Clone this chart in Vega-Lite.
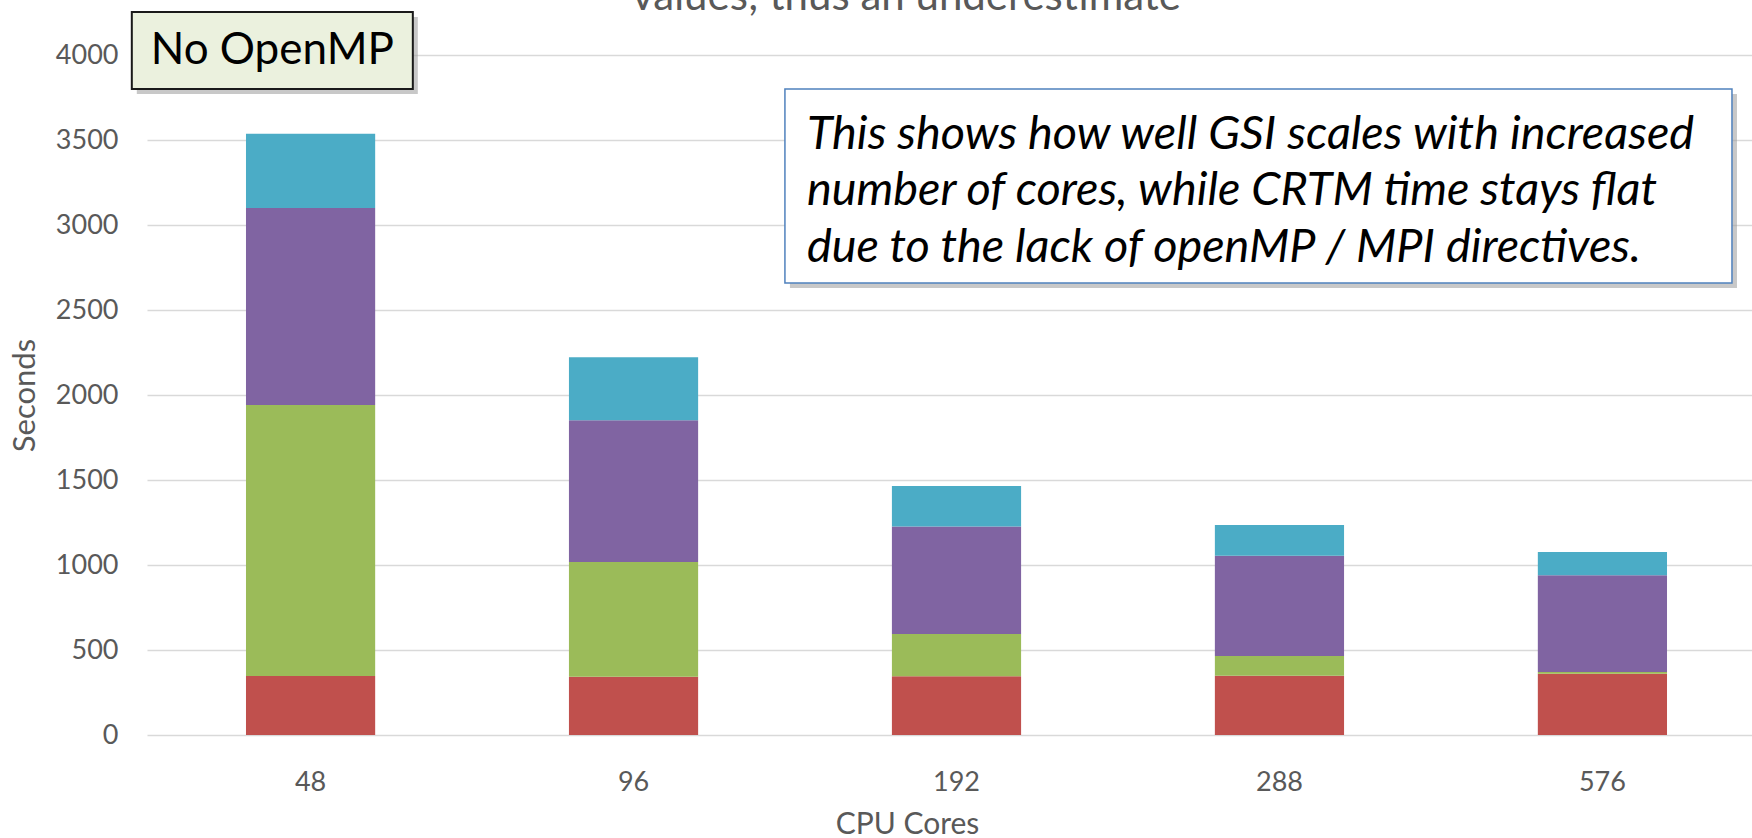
{
  "$schema": "https://vega.github.io/schema/vega-lite/v6.json",
  "width": 1605,
  "height": 680,
  "autosize": {"type": "none"},
  "padding": {"left": 147, "top": 55, "right": 0, "bottom": 103},
  "background": "white",
  "config": {"view": {"stroke": null}, "font": "Lato"},
  "title": {
    "text": "values; thus an underestimate",
    "font": "Lato",
    "fontSize": 42,
    "fontWeight": "normal",
    "color": "#595959",
    "anchor": "middle",
    "frame": "group",
    "dx": -43,
    "dy": 8,
    "offset": 0
  },
  "datasets": {
    "times": [
      {"cores": "48", "component": "Component A", "seconds": 347},
      {"cores": "48", "component": "Component B", "seconds": 1594},
      {"cores": "48", "component": "Component C", "seconds": 1159},
      {"cores": "48", "component": "Component D", "seconds": 437},
      {"cores": "96", "component": "Component A", "seconds": 343},
      {"cores": "96", "component": "Component B", "seconds": 675},
      {"cores": "96", "component": "Component C", "seconds": 833},
      {"cores": "96", "component": "Component D", "seconds": 371},
      {"cores": "192", "component": "Component A", "seconds": 345},
      {"cores": "192", "component": "Component B", "seconds": 249},
      {"cores": "192", "component": "Component C", "seconds": 633},
      {"cores": "192", "component": "Component D", "seconds": 238},
      {"cores": "288", "component": "Component A", "seconds": 349},
      {"cores": "288", "component": "Component B", "seconds": 116},
      {"cores": "288", "component": "Component C", "seconds": 590},
      {"cores": "288", "component": "Component D", "seconds": 180},
      {"cores": "576", "component": "Component A", "seconds": 361},
      {"cores": "576", "component": "Component B", "seconds": 10},
      {"cores": "576", "component": "Component C", "seconds": 568},
      {"cores": "576", "component": "Component D", "seconds": 137}
    ],
    "tagBox": [
      {"left": -0.553, "right": 0.317, "top": 4253, "bottom": 3800, "label": "No OpenMP", "labelX": -0.118, "labelY": 4026}
    ],
    "noteBox": [
      {"left": 1.469, "right": 4.401, "top": 3800, "bottom": 2659, "label": "This shows how well GSI scales with increased\nnumber of cores, while CRTM time stays flat\ndue to the lack of openMP / MPI directives.", "labelX": 1.537, "labelY": 3532}
    ]
  },
  "resolve": {"scale": {"x": "independent"}},
  "layer": [
    {
      "data": {"name": "times"},
      "mark": {"type": "bar"},
      "encoding": {
        "x": {
          "field": "cores",
          "type": "ordinal",
          "sort": ["48", "96", "192", "288", "576"],
          "scale": {"range": [0, 1619], "paddingInner": 0.6, "paddingOuter": 0.3065},
          "axis": {
            "title": "CPU Cores",
            "labelAngle": 0,
            "ticks": false,
            "tickSize": 0,
            "domain": false,
            "labelFont": "Lato",
            "labelFontSize": 27,
            "labelColor": "#595959",
            "labelPadding": 47,
            "labelBaseline": "middle",
            "titleFont": "Lato",
            "titleFontSize": 30,
            "titleFontWeight": "normal",
            "titleColor": "#595959",
            "titleX": 760,
            "titleY": 89,
            "titleBaseline": "middle"
          }
        },
        "y": {
          "field": "seconds",
          "type": "quantitative",
          "stack": "zero",
          "scale": {"domain": [0, 4000], "nice": false},
          "axis": {
            "title": "Seconds",
            "values": [0, 500, 1000, 1500, 2000, 2500, 3000, 3500, 4000],
            "format": "d",
            "grid": true,
            "gridColor": "#D9D9D9",
            "gridWidth": 1.5,
            "domain": false,
            "ticks": false,
            "tickSize": 0,
            "labelPadding": 29,
            "labelFont": "Lato",
            "labelFontSize": 27,
            "labelColor": "#595959",
            "titleFont": "Lato",
            "titleFontSize": 31,
            "titleFontWeight": "normal",
            "titleColor": "#595959",
            "titleX": -122,
            "titleY": 340,
            "titleAngle": -90,
            "titleAlign": "center",
            "titleBaseline": "middle"
          }
        },
        "color": {
          "field": "component",
          "type": "nominal",
          "scale": {
            "domain": ["Component A", "Component B", "Component C", "Component D"],
            "range": ["#C0504D", "#9BBB59", "#8064A2", "#4BACC6"]
          },
          "legend": null
        },
        "order": {"field": "component", "sort": "ascending"}
      }
    },
    {
      "data": {"name": "tagBox"},
      "mark": {"type": "rect", "fill": "#9a9a9a", "opacity": 0.55, "xOffset": 5, "x2Offset": 5, "yOffset": 5, "y2Offset": 5},
      "encoding": {
        "x": {"field": "left", "type": "quantitative", "scale": {"domain": [-0.506, 4.463], "nice": false, "zero": false}, "axis": null},
        "x2": {"field": "right"},
        "y": {"field": "top", "type": "quantitative", "scale": {"domain": [0, 4000], "nice": false}},
        "y2": {"field": "bottom"}
      }
    },
    {
      "data": {"name": "tagBox"},
      "mark": {"type": "rect", "fill": "#EBF1DE", "stroke": "#1a1a1a", "strokeWidth": 2},
      "encoding": {
        "x": {"field": "left", "type": "quantitative", "scale": {"domain": [-0.506, 4.463], "nice": false, "zero": false}, "axis": null},
        "x2": {"field": "right"},
        "y": {"field": "top", "type": "quantitative", "scale": {"domain": [0, 4000], "nice": false}},
        "y2": {"field": "bottom"}
      }
    },
    {
      "data": {"name": "tagBox"},
      "mark": {"type": "text", "font": "Lato", "fontSize": 44, "color": "#000000", "align": "center", "baseline": "middle"},
      "encoding": {
        "x": {"field": "labelX", "type": "quantitative", "scale": {"domain": [-0.506, 4.463], "nice": false, "zero": false}, "axis": null},
        "y": {"field": "labelY", "type": "quantitative", "scale": {"domain": [0, 4000], "nice": false}},
        "text": {"field": "label"}
      }
    },
    {
      "data": {"name": "noteBox"},
      "mark": {"type": "rect", "fill": "#9a9a9a", "opacity": 0.55, "xOffset": 5, "x2Offset": 5, "yOffset": 5, "y2Offset": 5},
      "encoding": {
        "x": {"field": "left", "type": "quantitative", "scale": {"domain": [-0.506, 4.463], "nice": false, "zero": false}, "axis": null},
        "x2": {"field": "right"},
        "y": {"field": "top", "type": "quantitative", "scale": {"domain": [0, 4000], "nice": false}},
        "y2": {"field": "bottom"}
      }
    },
    {
      "data": {"name": "noteBox"},
      "mark": {"type": "rect", "fill": "#FFFFFF", "stroke": "#4F81BD", "strokeWidth": 1.5},
      "encoding": {
        "x": {"field": "left", "type": "quantitative", "scale": {"domain": [-0.506, 4.463], "nice": false, "zero": false}, "axis": null},
        "x2": {"field": "right"},
        "y": {"field": "top", "type": "quantitative", "scale": {"domain": [0, 4000], "nice": false}},
        "y2": {"field": "bottom"}
      }
    },
    {
      "data": {"name": "noteBox"},
      "mark": {"type": "text", "font": "Lato", "fontSize": 46.8, "fontStyle": "italic", "color": "#000000", "align": "left", "baseline": "middle", "lineBreak": "\n", "lineHeight": 56.5},
      "encoding": {
        "x": {"field": "labelX", "type": "quantitative", "scale": {"domain": [-0.506, 4.463], "nice": false, "zero": false}, "axis": null},
        "y": {"field": "labelY", "type": "quantitative", "scale": {"domain": [0, 4000], "nice": false}},
        "text": {"field": "label"}
      }
    }
  ]
}
